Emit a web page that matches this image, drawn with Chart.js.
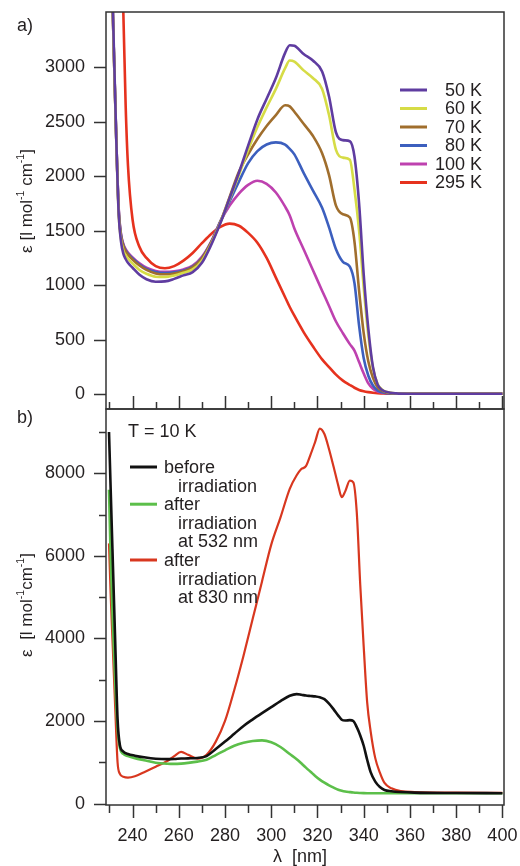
<!DOCTYPE html>
<html>
<head>
<meta charset="utf-8">
<script src="https://cdn.jsdelivr.net/npm/chart.js@4.4.1/dist/chart.umd.min.js"></script>
<style>
  body { margin: 0; background: #fff; }
  #wrap { position: relative; width: 520px; height: 866px; }
  canvas { position: absolute; left: 0; }
</style>
</head>
<body>
<div id="wrap">
  <canvas id="chartA" width="520" height="410" style="top:0"></canvas>
  <canvas id="chartB" width="520" height="466" style="top:400px"></canvas>
</div>
<script>
// ---- panel a) temperature series ----
const wavelengthsA = [229, 231, 232, 233, 234, 235, 236, 237, 238, 240, 243, 246, 250, 254, 258, 262, 266, 270, 274, 278,
  282, 286, 290, 294, 298, 302, 306, 308, 310, 314, 318, 322, 325, 328, 331, 334, 336, 338, 340, 342,
  344, 346, 348, 350, 354, 360, 380, 400];
const eps50K = [5500, 3900, 3100, 2300, 1650, 1400, 1290, 1240, 1205, 1160, 1095, 1055, 1032, 1035, 1058, 1090, 1120, 1205, 1370, 1570,
  1800, 2030, 2280, 2520, 2710, 2900, 3130, 3200, 3195, 3120, 3060, 2960, 2730, 2400, 2330, 2320, 2180, 1750, 1100, 600,
  250, 90, 40, 20, 8, 5, 5, 5];
const eps60K = [5500, 3850, 3050, 2280, 1650, 1420, 1320, 1275, 1245, 1200, 1140, 1105, 1078, 1075, 1090, 1115, 1145, 1225, 1380, 1575,
  1790, 2010, 2240, 2450, 2630, 2800, 2990, 3060, 3050, 2970, 2900, 2800, 2560, 2240, 2170, 2150, 1880, 1500, 980, 540,
  240, 95, 42, 20, 8, 5, 5, 5];
const eps70K = [5500, 3850, 3060, 2300, 1680, 1450, 1360, 1310, 1280, 1235, 1180, 1140, 1108, 1100, 1108, 1128, 1165, 1245, 1390, 1580,
  1810, 2040, 2200, 2340, 2460, 2560, 2650, 2640, 2590, 2480, 2370, 2210, 2010, 1730, 1650, 1620, 1400, 950, 560, 300,
  150, 65, 30, 15, 7, 5, 5, 5];
const eps80K = [5500, 3850, 3060, 2300, 1690, 1460, 1370, 1320, 1290, 1245, 1190, 1150, 1120, 1112, 1118, 1135, 1170, 1250, 1395, 1585,
  1770, 1950, 2120, 2230, 2290, 2310, 2290, 2250, 2200, 2030, 1870, 1710, 1530, 1330, 1215, 1170, 1020, 630, 330, 170,
  80, 36, 18, 10, 6, 5, 5, 5];
const eps100K = [5500, 3850, 3060, 2300, 1700, 1470, 1380, 1330, 1300, 1255, 1200, 1160, 1130, 1122, 1128, 1145, 1180, 1260, 1400, 1585,
  1730, 1840, 1920, 1958, 1930, 1850, 1720, 1640, 1520, 1330, 1140, 950, 810, 667, 560, 460, 400, 295, 190, 100,
  50, 25, 15, 10, 5, 5, 5, 5];
const eps295K = [9000, 7500, 6500, 5600, 4800, 4100, 3500, 2650, 2100, 1600, 1350, 1250, 1175, 1155, 1175, 1225, 1295, 1385, 1470, 1535,
  1565, 1545, 1480, 1390, 1250, 1070, 890, 800, 720, 570, 440, 320, 250, 180, 125, 85, 60, 40, 28, 20,
  14, 10, 8, 6, 5, 5, 5, 5];
const labelsA = ['50 K', '60 K', '70 K', '80 K', '100 K', '295 K'];
const colorsA = ['#5f3ca0', '#d6dc46', '#a06e2d', '#3c5fbe', '#be41af', '#e6321e'];
const yTicksA = [0, 500, 1000, 1500, 2000, 2500, 3000];

// ---- panel b) T = 10 K irradiation series ----
const wavelengthsB = [229.8, 230.5, 231.5, 232.5, 233.5, 234.5, 236, 238, 241, 245, 250, 255, 258, 261, 264, 268, 272, 276, 280, 284,
  288, 292, 296, 300, 304, 308, 311, 313, 315, 317, 319, 321, 323, 325, 327, 329, 330.5, 332, 334, 335.5,
  337, 338.5, 340, 341.5, 343, 345, 347, 349, 352, 356, 362, 380, 400];
const epsBefore = [9000, 7650, 5760, 3880, 2050, 1420, 1260, 1200, 1160, 1120, 1085, 1075, 1080, 1090, 1095, 1105, 1150, 1320, 1500, 1690,
  1880, 2040, 2190, 2335, 2480, 2610, 2650, 2635, 2615, 2605, 2595, 2575, 2530, 2420, 2280, 2130, 2030, 2010, 2020, 2000,
  1850, 1650, 1400, 1060, 760, 530, 400, 330, 300, 280, 265, 255, 250];
const eps532 = [7600, 6000, 4300, 2900, 1800, 1350, 1200, 1150, 1100, 1050, 990, 965, 960, 968, 985, 1015, 1060, 1175, 1290, 1400,
  1470, 1515, 1530, 1485, 1370, 1200, 1075, 975, 870, 770, 670, 580, 505, 440, 385, 335, 310, 292, 277, 267,
  260, 256, 253, 251, 250, 250, 250, 250, 250, 250, 250, 250, 250];
const eps830 = [6300, 5100, 3700, 2300, 1000, 720, 650, 630, 660, 760, 890, 1030, 1150, 1250, 1180, 1090, 1180, 1500, 2000, 2750,
  3580, 4480, 5380, 6270, 6930, 7620, 7950, 8100, 8170, 8450, 8760, 9080, 8950, 8580, 8150, 7700, 7420, 7560, 7820, 7780,
  7050, 5300, 3800, 2450, 1750, 1100, 750, 500, 370, 300, 280, 265, 260];
const labelsB = [['before', 'irradiation'], ['after', 'irradiation', 'at 532 nm'], ['after', 'irradiation', 'at 830 nm']];
const colorsB = ['#111111', '#5cbf4a', '#d8371f'];
const yTicksB = [0, 2000, 4000, 6000, 8000];
const yMinorB = [1000, 3000, 5000, 7000, 9000];
const xTicks = [240, 260, 280, 300, 320, 340, 360, 380, 400];
const xMinor = [230, 250, 270, 290, 310, 330, 350, 370, 390];

const FONT = '"Liberation Sans", Arial, Helvetica, sans-serif';
const INK = '#231f20';
Chart.defaults.font.family = FONT;
Chart.defaults.color = INK;

function points(xs, ys) {
  return xs.map((x, i) => ({ x: x, y: ys[i] }));
}

// frame around the plot area plus hand-sized tick marks
const frameAndTicks = {
  id: 'frameAndTicks',
  afterDatasetsDraw(chart, args, opts) {
    const { ctx, chartArea: a, scales } = chart;
    ctx.save();
    ctx.strokeStyle = '#333';
    ctx.lineWidth = 1.5;
    ctx.strokeRect(a.left, a.top, a.right - a.left, a.bottom - a.top);
    (opts.marks || []).forEach(m => {
      const s = scales[m.axis];
      ctx.beginPath();
      m.values.forEach(v => {
        const p = Math.round(s.getPixelForValue(v)) + 0.5;
        if (m.axis === 'y') {
          ctx.moveTo(a.left, p);
          ctx.lineTo(a.left - m.len, p);
        } else {
          ctx.moveTo(p, a.bottom);
          ctx.lineTo(p, a.bottom + m.len);
        }
      });
      ctx.stroke();
    });
    ctx.restore();
  }
};

function drawVerticalTitle(ctx, parts, cx, cy, size) {
  ctx.save();
  ctx.translate(cx, cy);
  ctx.rotate(-Math.PI / 2);
  ctx.fillStyle = INK;
  ctx.textBaseline = 'middle';
  ctx.textAlign = 'left';
  let total = 0;
  parts.forEach(p => {
    ctx.font = (p.sup ? size * 0.62 : size) + 'px ' + FONT;
    total += ctx.measureText(p.t).width;
  });
  let x = -total / 2;
  parts.forEach(p => {
    ctx.font = (p.sup ? size * 0.62 : size) + 'px ' + FONT;
    ctx.fillText(p.t, x, p.sup ? -size * 0.33 : 0);
    x += ctx.measureText(p.t).width;
  });
  ctx.restore();
}

function yScale(min, max, ticks) {
  return {
    min: min, max: max,
    afterBuildTicks: s => { s.ticks = ticks.map(v => ({ value: v })); },
    ticks: { padding: 21, font: { size: 18 }, color: INK, callback: v => String(v) },
    grid: { display: false, drawTicks: false },
    border: { display: false },
    afterFit: s => { s.width = 106; s.paddingTop = 0; s.paddingBottom = 0; }
  };
}

const commonOpts = {
  responsive: false,
  animation: false,
  elements: { point: { radius: 0 }, line: { borderWidth: 2.6, cubicInterpolationMode: 'monotone' } }
};

// ---------- chart a ----------
const legendA = {
  id: 'legendA',
  afterDraw(chart) {
    const ctx = chart.ctx;
    ctx.save();
    ctx.font = '18px ' + FONT;
    ctx.textBaseline = 'middle';
    ctx.textAlign = 'right';
    labelsA.forEach((lab, i) => {
      const y = 90 + i * 18.5;
      ctx.strokeStyle = colorsA[i];
      ctx.lineWidth = 3;
      ctx.beginPath();
      ctx.moveTo(400, y);
      ctx.lineTo(427, y);
      ctx.stroke();
      ctx.fillStyle = INK;
      ctx.fillText(lab, 482, y + 1);
    });
    ctx.textAlign = 'left';
    ctx.fillText('a)', 17, 26);
    ctx.restore();
    drawVerticalTitle(ctx, [{ t: 'ε [l mol' }, { t: '-1', sup: true }, { t: ' cm' }, { t: '-1', sup: true }, { t: ']' }], 27, 201, 17);
  }
};

const seriesA = [eps50K, eps60K, eps70K, eps80K, eps100K, eps295K];

new Chart(document.getElementById('chartA'), {
  type: 'line',
  data: {
    datasets: seriesA.map((ys, i) => ({
      label: labelsA[i],
      data: points(wavelengthsA, ys),
      borderColor: colorsA[i]
    }))
  },
  options: Object.assign({}, commonOpts, {
    layout: { padding: { top: 12, right: 16, bottom: 0, left: 0 } },
    plugins: {
      legend: { display: false },
      tooltip: { enabled: false },
      frameAndTicks: {
        marks: [
          { axis: 'y', values: yTicksA, len: 12 },
          { axis: 'x', values: xTicks, len: -13 },
          { axis: 'x', values: xMinor, len: -7 }
        ]
      }
    },
    scales: {
      x: {
        type: 'linear', min: 228.5, max: 400.7,
        ticks: { display: false },
        grid: { display: false, drawTicks: false },
        border: { display: false },
        afterFit: s => { s.height = 1; s.paddingLeft = 0; s.paddingRight = 0; }
      },
      y: yScale(-135, 3505, yTicksA)
    }
  }),
  plugins: [frameAndTicks, legendA]
});

// ---------- chart b ----------
const legendB = {
  id: 'legendB',
  afterDraw(chart) {
    const ctx = chart.ctx;
    const off = -400; // canvas starts 400px down the page
    ctx.save();
    ctx.font = '18px ' + FONT;
    ctx.textBaseline = 'middle';
    ctx.textAlign = 'left';
    ctx.fillStyle = INK;
    ctx.fillText('T = 10 K', 128, 432 + off);
    let row = 0;
    labelsB.forEach((lines, i) => {
      const y0 = 467 + row * 18.6 + off;
      ctx.strokeStyle = colorsB[i];
      ctx.lineWidth = 3;
      ctx.beginPath();
      ctx.moveTo(130, y0);
      ctx.lineTo(157, y0);
      ctx.stroke();
      lines.forEach((t, j) => {
        ctx.fillText(t, j === 0 ? 164 : 178, 467 + row * 18.6 + off + 1);
        row++;
      });
    });
    ctx.fillText('b)', 17, 418 + off);
    ctx.textAlign = 'center';
    ctx.fillText('λ  [nm]', 300, 857 + off);
    ctx.restore();
    drawVerticalTitle(ctx, [{ t: 'ε  [l mol' }, { t: '-1', sup: true }, { t: 'cm' }, { t: '-1', sup: true }, { t: ']' }], 27, 605 + off, 17);
  }
};

const seriesB = [epsBefore, eps532, eps830];

new Chart(document.getElementById('chartB'), {
  type: 'line',
  data: {
    datasets: seriesB.map((ys, i) => ({
      label: labelsB[i].join(' '),
      data: points(wavelengthsB, ys),
      borderColor: colorsB[i],
      borderWidth: i === 2 ? 2.2 : 2.6
    }))
  },
  options: Object.assign({}, commonOpts, {
    layout: { padding: { top: 9, right: 16, bottom: 0, left: 0 } },
    plugins: {
      legend: { display: false },
      tooltip: { enabled: false },
      frameAndTicks: {
        marks: [
          { axis: 'y', values: yTicksB, len: 12 },
          { axis: 'y', values: yMinorB, len: 7 },
          { axis: 'x', values: xTicks, len: 13 },
          { axis: 'x', values: xMinor, len: 8 }
        ]
      }
    },
    scales: {
      x: {
        type: 'linear', min: 228.5, max: 400.7,
        afterBuildTicks: s => { s.ticks = xTicks.map(v => ({ value: v })); },
        ticks: { padding: 20, font: { size: 18 }, color: INK, maxRotation: 0, autoSkip: false, callback: v => String(v) },
        grid: { display: false, drawTicks: false },
        border: { display: false },
        afterFit: s => { s.height = 61; s.paddingLeft = 0; s.paddingRight = 0; }
      },
      y: yScale(-35, 9555, yTicksB)
    }
  }),
  plugins: [frameAndTicks, legendB]
});
</script>
</body>
</html>
